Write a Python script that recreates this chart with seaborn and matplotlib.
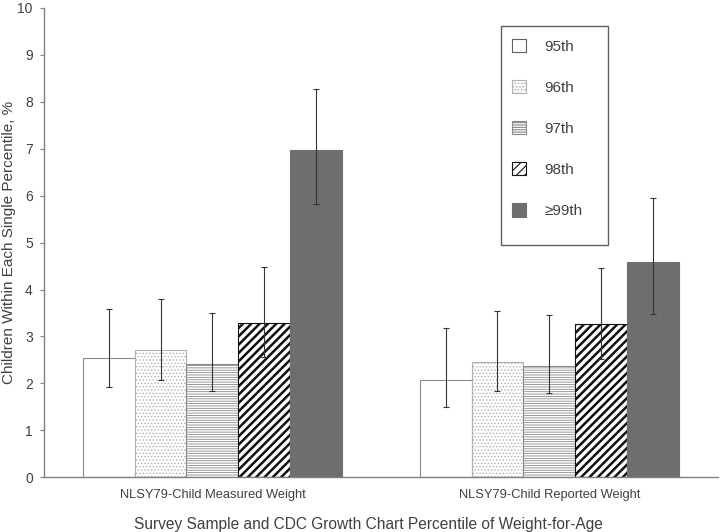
import numpy as np
import pandas as pd
import matplotlib
matplotlib.use('Agg')
import matplotlib.pyplot as plt
import seaborn as sns
from matplotlib.patches import Patch, Rectangle

# 数据
samples = ['NLSY79-Child Measured Weight', 'NLSY79-Child Reported Weight']
percentiles = ['95th', '96th', '97th', '98th', '≥99th']
measured = [2.53, 2.72, 2.42, 3.28, 6.97]
measured_lo = [1.93, 2.08, 1.83, 2.57, 5.82]
measured_hi = [3.59, 3.80, 3.49, 4.47, 8.27]
reported = [2.08, 2.46, 2.37, 3.26, 4.58]
reported_lo = [1.49, 1.83, 1.79, 2.52, 3.48]
reported_hi = [3.17, 3.55, 3.45, 4.45, 5.94]

df = pd.DataFrame({
    'sample': [samples[0]] * 5 + [samples[1]] * 5,
    'pct': percentiles * 2,
    'value': measured + reported,
    'lo': measured_lo + reported_lo,
    'hi': measured_hi + reported_hi,
})

sns.set_style('white')
plt.rcParams['font.family'] = ['Liberation Sans', 'DejaVu Sans']
plt.rcParams['hatch.linewidth'] = 0.8

text_color = '#404040'
fills = ['white', 'white', 'white', 'white', '#6e6e6e']
hatches = ['', '.....', '-------', '////', '']
hatch_edges = ['#8a8a8a', '#b0b0b0', '#8a8a8a', '#111111', '#6e6e6e']

fig = plt.figure(figsize=(7.2, 5.32), dpi=100)
ax = fig.add_axes([0.061, 0.103, 0.936, 0.882])

sns.barplot(data=df, x='sample', y='value', hue='pct', order=samples,
            hue_order=percentiles, palette=fills, width=0.77, gap=0,
            errorbar=None, legend=False, ax=ax, saturation=1)

bar_conts = list(ax.containers)
for i, cont in enumerate(bar_conts):
    for j, bar in enumerate(cont.patches):
        bar.set_hatch(hatches[i])
        bar.set_edgecolor(hatch_edges[i])
        bar.set_linewidth(0.8)
        if hasattr(bar, 'set_hatch_linewidth'):
            bar.set_hatch_linewidth(1.8 if i == 3 else 0.6)
        row = df[(df['sample'] == samples[j]) & (df['pct'] == percentiles[i])].iloc[0]
        cx = bar.get_x() + bar.get_width() / 2
        ax.errorbar(cx, row['value'],
                    yerr=[[row['value'] - row['lo']], [row['hi'] - row['value']]],
                    fmt='none', ecolor='#333333', elinewidth=0.8, capsize=2.5,
                    capthick=0.8, zorder=5)

ax.set_ylim(0, 10)
ax.set_yticks(range(0, 11))
ax.set_xlim(-0.5, 1.5)
sns.despine(ax=ax)
for s in ['left', 'bottom']:
    ax.spines[s].set_color('#808080')
    ax.spines[s].set_linewidth(1)
ax.tick_params(axis='y', which='both', left=True, length=3, color='#808080',
               labelsize=10, labelcolor=text_color, pad=5)
ax.tick_params(axis='x', bottom=False, labelsize=9.3, labelcolor=text_color, pad=5)

ax.set_ylabel('Children Within Each Single Percentile, %', fontsize=11,
              color=text_color)
ax.yaxis.set_label_coords(-0.0415, 0.5)
ax.set_xlabel('Survey Sample and CDC Growth Chart Percentile of Weight-for-Age',
              fontsize=11.2, color=text_color, labelpad=9)
ax.xaxis.set_label_coords(0.481, -0.085)

# 图例
handles = []
for i in range(5):
    h = Patch(facecolor=fills[i], edgecolor=hatch_edges[i] if i != 0 else '#606060',
              hatch=hatches[i], linewidth=0.8)
    handles.append(h)
leg = ax.legend(handles, percentiles, loc='upper left', bbox_to_anchor=(0.678, 0.957),
                frameon=False, handlelength=0.95, handleheight=0.95, labelspacing=1.72,
                borderpad=0.7, handletextpad=1.2, borderaxespad=0, fontsize=11)
leg.set_zorder(10)
for t in leg.get_texts():
    t.set_color(text_color)
ax.add_patch(Rectangle((0.678, 0.4947), 0.1588, 0.4669, transform=ax.transAxes,
                       facecolor='white', edgecolor='#606060', linewidth=1, zorder=9))

fig.savefig('out.png', dpi=100)
